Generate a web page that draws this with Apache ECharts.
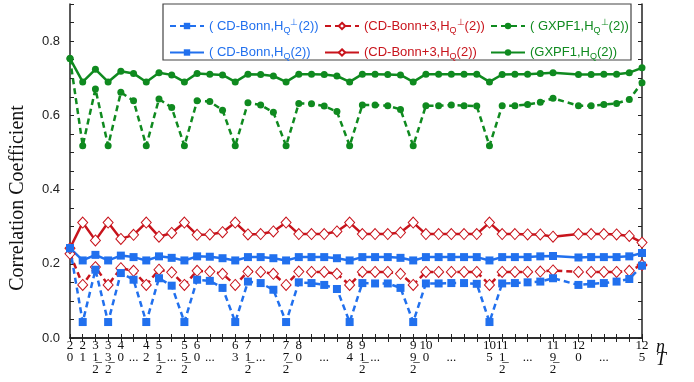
<!DOCTYPE html>
<html>
<head>
<meta charset="utf-8">
<script src="https://cdn.jsdelivr.net/npm/echarts@6/dist/echarts.min.js"></script>
<style>
  html, body { margin: 0; padding: 0; background: #fff; }
  #chart { width: 694px; height: 382px; }
</style>
</head>
<body>
<div id="chart"></div>
<script>
// x positions: n (particle number) and T (isospin); index 39 has no point
const nRow = ['2','2','3','3','4','','4','5','','5','6','','','6','7','','','7','8','','','','8','9','','','','9','10','','','','','10','11','','','','11','','12','','','','','12'];
const tRow = ['0','1','1','3','0','...','2','1','...','5','0','...','','3','1','...','','7','0','','...','','4','1','...','','','9','0','','...','','','5','1','','...','','9','','0','','...','','','5'];
const tDen = ['','','2','2','','','','2','','2','','','','','2','','','2','','','','','','2','','','','2','','','','','','','2','','','','2','','','','','','',''];

const blueDash = [0.242,0.043,0.184,0.043,0.175,0.157,0.043,0.161,0.141,0.043,
  0.157,0.154,0.135,0.043,0.152,0.148,0.130,0.043,0.150,0.148,
  0.143,0.132,0.043,0.148,0.147,0.147,0.135,0.043,0.147,0.147,
  0.148,0.148,0.146,0.043,0.147,0.148,0.150,0.152,0.161,null,
  0.143,0.146,0.148,0.152,0.159,0.195];
const blueSolid = [0.242,0.209,0.224,0.209,0.222,0.218,0.209,0.220,0.216,0.209,
  0.220,0.219,0.215,0.209,0.218,0.218,0.215,0.209,0.218,0.218,
  0.218,0.215,0.209,0.218,0.218,0.218,0.216,0.209,0.218,0.218,
  0.218,0.218,0.218,0.209,0.218,0.218,0.218,0.220,0.221,null,
  0.217,0.218,0.218,0.218,0.220,0.229];
const redDash = [0.227,0.143,0.191,0.143,0.188,0.181,0.143,0.184,0.177,0.143,
  0.181,0.179,0.173,0.143,0.179,0.178,0.173,0.143,0.179,0.178,
  0.178,0.173,0.143,0.178,0.178,0.178,0.173,0.143,0.178,0.178,
  0.178,0.178,0.178,0.143,0.178,0.178,0.178,0.179,0.182,null,
  0.178,0.178,0.178,0.178,0.181,0.197];
const redSolid = [0.242,0.311,0.263,0.311,0.267,0.278,0.311,0.273,0.283,0.311,
  0.278,0.279,0.285,0.311,0.279,0.280,0.287,0.311,0.280,0.280,
  0.280,0.287,0.311,0.280,0.280,0.280,0.284,0.311,0.280,0.280,
  0.280,0.280,0.280,0.311,0.280,0.280,0.279,0.279,0.273,null,
  0.280,0.280,0.280,0.279,0.275,0.257];
const greenDash = [0.753,0.518,0.671,0.518,0.662,0.639,0.518,0.644,0.621,0.518,
  0.639,0.637,0.614,0.518,0.634,0.628,0.608,0.518,0.632,0.631,
  0.625,0.610,0.518,0.628,0.628,0.626,0.616,0.518,0.626,0.626,
  0.628,0.626,0.625,0.518,0.626,0.626,0.629,0.635,0.646,null,
  0.626,0.626,0.629,0.632,0.643,0.688];
const greenSolid = [0.753,0.690,0.724,0.690,0.719,0.713,0.690,0.715,0.709,0.690,
  0.713,0.711,0.709,0.690,0.711,0.710,0.706,0.690,0.711,0.711,
  0.710,0.706,0.690,0.711,0.711,0.710,0.709,0.690,0.711,0.711,
  0.711,0.711,0.711,0.690,0.710,0.711,0.711,0.713,0.715,null,
  0.710,0.710,0.711,0.711,0.715,0.728];

const BLUE = '#2170ee', RED = '#c8141c', GREEN = '#0f8a1f';
const SERIF = '"Liberation Serif", "DejaVu Serif", serif';
const SANS = '"Liberation Sans", Arial, sans-serif';

const cats = nRow.map((n, i) => String(i));

let chart = echarts.init(document.getElementById('chart'));

function lineSeries(name, data, color, dashed, symbol) {
    let s = {
        name: name,
        type: 'line',
        data: data,
        connectNulls: true,
        symbol: symbol,
        symbolSize: 8,
        lineStyle: { color: color, width: 2.5, type: dashed ? [6, 4] : 'solid' },
        itemStyle: { color: color },
        emphasis: { disabled: true }
    };
    if (symbol === 'diamond') {
        s.symbolSize = [10, 11];
        s.itemStyle = { color: '#fff', borderColor: color, borderWidth: 1 };
    }
    if (symbol === 'circle') s.symbolSize = 7;
    return s;
}

const legendText = {
    fontFamily: SANS,
    fontSize: 13,
    rich: {
        sub: { fontSize: 9, padding: [9, 0, 0, 0] },
        sup: { fontSize: 9, padding: [0, 0, 7, 0] }
    }
};

function legendCol(left, names, color) {
    return {
        orient: 'vertical',
        left: left,
        top: 18,
        padding: 0,
        itemGap: 11,
        itemWidth: 34,
        itemHeight: 8,
        z: 10,
        data: names,
        textStyle: Object.assign({ color: color }, legendText)
    };
}

const N_BD = '( CD-Bonn,H{sub|Q}{sup|\u22a5}(2))';
const N_BS = '( CD-Bonn,H{sub|Q}(2))';
const N_RD = '(CD-Bonn+3,H{sub|Q}{sup|\u22a5}(2))';
const N_RS = '(CD-Bonn+3,H{sub|Q}(2))';
const N_GD = '( GXPF1,H{sub|Q}{sup|\u22a5}(2))';
const N_GS = '(GXPF1,H{sub|Q}(2))';

const yLabel = (v) => {
    let r = v / 0.2;
    return Math.abs(r - Math.round(r)) < 1e-6 ? v.toFixed(1) : '';
};

const option = {
    animation: false,
    grid: { left: 68, right: 52, top: 4, bottom: 44 },
    legend: [
        legendCol(169, [N_BD, N_BS], BLUE),
        legendCol(324, [N_RD, N_RS], RED),
        legendCol(490, [N_GD, N_GS], GREEN)
    ],
    graphic: [{
        type: 'rect',
        shape: { x: 163, y: 4, width: 468, height: 56 },
        style: { fill: '#fff', stroke: '#444', lineWidth: 1.2 },
        z: 3
    }],
    xAxis: [{
        type: 'category',
        data: cats,
        boundaryGap: false,
        axisLine: { lineStyle: { color: '#222', width: 1.5 } },
        axisTick: { inside: true, length: 4, interval: 0, lineStyle: { color: '#222' } },
        axisLabel: {
            interval: 0,
            margin: 2,
            formatter: (v, i) => {
                let t = tRow[i] || ' ';
                if (tDen[i]) t = t + '\u0332';
                return '{a|' + (nRow[i] || ' ') + '}\n{a|' + t + '}\n{a|' + (tDen[i] || ' ') + '}';
            },
            rich: { a: { fontFamily: SERIF, fontSize: 13, lineHeight: 12, color: '#111' } }
        },
        name: '{i|n}\n{i|T}',
        nameLocation: 'end',
        nameGap: 14,
        nameTextStyle: {
            align: 'left',
            verticalAlign: 'top',
            padding: [3, 0, 0, 0],
            rich: { i: { fontFamily: SERIF, fontStyle: 'italic', fontSize: 18, lineHeight: 13, color: '#111' } }
        }
    }, {
        type: 'category',
        data: cats,
        boundaryGap: false,
        position: 'top',
        axisLine: { lineStyle: { color: '#222', width: 1.5 } },
        axisTick: { inside: true, length: 4, interval: 0, lineStyle: { color: '#222' } },
        axisLabel: { show: false }
    }],
    yAxis: [{
        type: 'value',
        min: 0,
        max: 0.9,
        interval: 0.05,
        splitLine: { show: false },
        axisLine: { show: true, lineStyle: { color: '#222', width: 1.5 } },
        axisTick: { show: true, inside: true, length: 4, lineStyle: { color: '#222' } },
        axisLabel: { formatter: yLabel, fontFamily: SANS, fontSize: 13, color: '#222', margin: 10 },
        name: 'Correlation Coefficient',
        nameLocation: 'middle',
        nameGap: 42,
        nameTextStyle: { fontFamily: SERIF, fontSize: 20, color: '#111', padding: [0, 54, 0, 0] }
    }, {
        type: 'value',
        min: 0,
        max: 0.9,
        interval: 0.05,
        position: 'right',
        splitLine: { show: false },
        axisLine: { show: true, lineStyle: { color: '#222', width: 1.5 } },
        axisTick: { show: true, inside: true, length: 4, lineStyle: { color: '#222' } },
        axisLabel: { show: false }
    }],
    series: [
        lineSeries(N_RD, redDash, RED, true, 'diamond'),
        lineSeries(N_RS, redSolid, RED, false, 'diamond'),
        lineSeries(N_GD, greenDash, GREEN, true, 'circle'),
        lineSeries(N_GS, greenSolid, GREEN, false, 'circle'),
        lineSeries(N_BD, blueDash, BLUE, true, 'rect'),
        lineSeries(N_BS, blueSolid, BLUE, false, 'rect')
    ]
};

option && chart.setOption(option);
window.addEventListener('resize', chart.resize);
</script>
</body>
</html>
